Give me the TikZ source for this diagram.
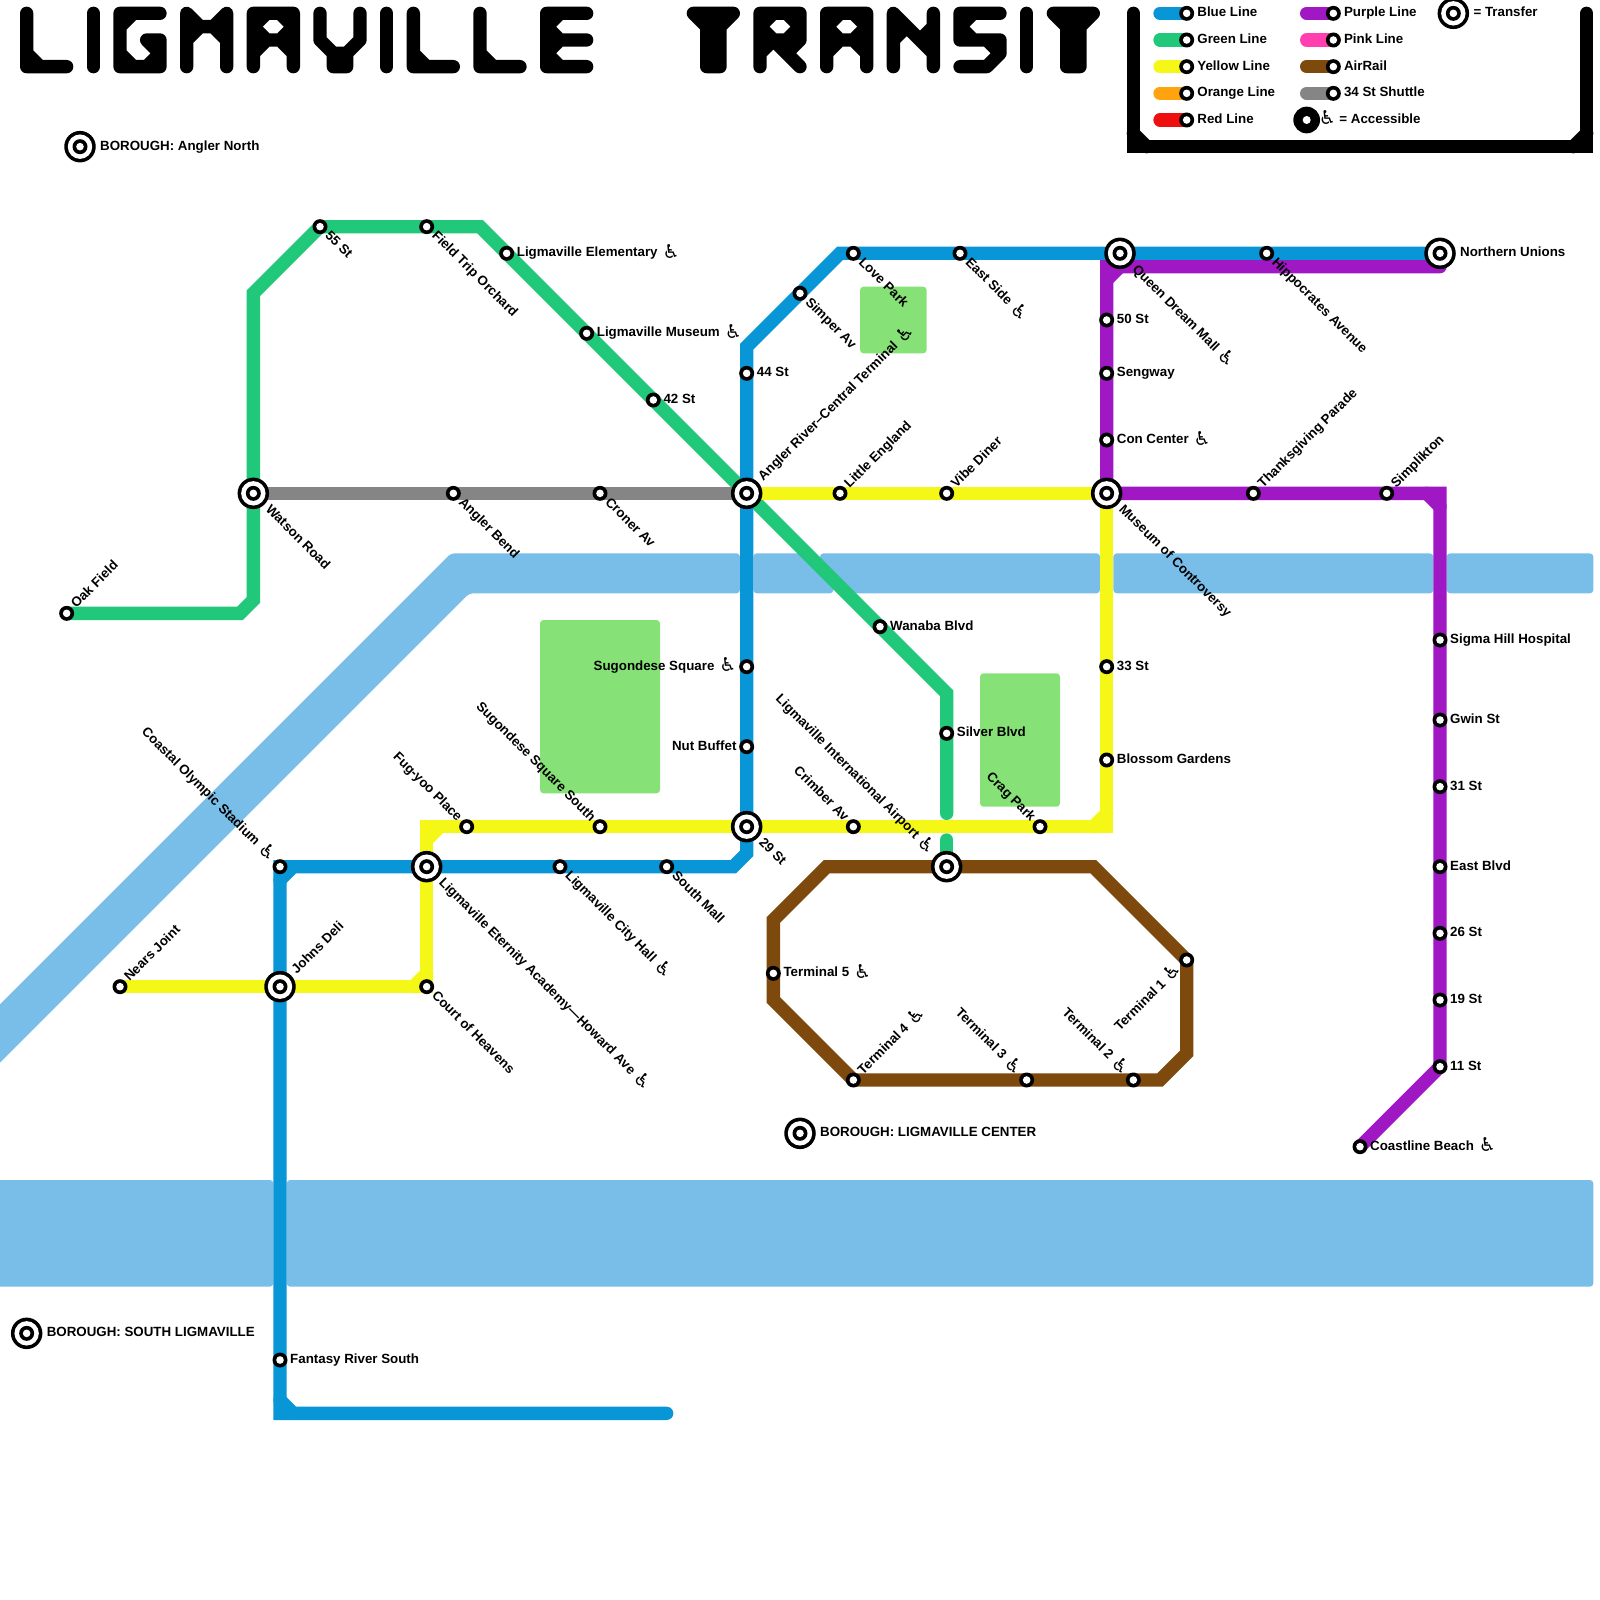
\documentclass[tikz,border=0pt]{standalone}
\usepackage{fontspec}
\setmainfont{Liberation Sans}
\newfontfamily\icf{DejaVu Sans}
\usetikzlibrary{backgrounds}
\definecolor{cBlue}{HTML}{0896D7}
\definecolor{cGreen}{HTML}{21C87A}
\definecolor{cYellow}{HTML}{F5F816}
\definecolor{cOrange}{HTML}{FFA40E}
\definecolor{cRed}{HTML}{F00F0F}
\definecolor{cPurple}{HTML}{A018C4}
\definecolor{cPink}{HTML}{FF40AE}
\definecolor{cBrown}{HTML}{7D490D}
\definecolor{cGray}{HTML}{858585}
\definecolor{cWater}{HTML}{79BDE9}
\definecolor{cPark}{HTML}{86E276}
\newcommand{\wch}{\smash{\raisebox{-1.5bp}{\icf\mdseries\fontsize{19bp}{19bp}\selectfont ♿}}}
\newcommand{\acc}{\hspace{5bp}\wch}
\newcommand{\stn}[2]{\node[stat] (#1) at (#2) {};}
\newcommand{\trn}[2]{\node[tring] (#1o) at (#2) {}; \node[stat] (#1) at (#2) {};}
\tikzset{
  disc/.style 2 args={circle,fill=black,line width=0pt,outer sep=0pt,inner sep=0pt,minimum size=#1,
    path picture={\fill[white] (path picture bounding box.center) circle (#2);}},
  stat/.style={disc={15bp}{3.8bp}},
  tring/.style={disc={31.5bp}{12.2bp}},
  bigdot/.style={disc={26.7bp}{4bp}},
  txt/.style={font=\bfseries\fontsize{13.33bp}{15bp}\selectfont,inner sep=0pt,text height=9.5bp,text depth=2.5bp,text=black},
  lbE/.style={txt,anchor=west,xshift=#1},lbE/.default=10bp,
  lbW/.style={txt,anchor=east,xshift=-#1},lbW/.default=10bp,
  lbSE/.style={txt,rotate=-45,anchor=west,xshift=#1},lbSE/.default=10bp,
  lbNE/.style={txt,rotate=45,anchor=west,xshift=#1},lbNE/.default=10bp,
  lbNW/.style={txt,rotate=-45,anchor=east,xshift=-#1},lbNW/.default=10bp,
  lbSW/.style={txt,rotate=45,anchor=east,xshift=-#1},lbSW/.default=10bp,
  rail/.style={line width=13.33bp,line cap=round,line join=miter,draw=#1},
  ttl/.style={line width=13.33bp,line cap=round,line join=round,draw=black},
  wat/.style={fill=cWater,rounded corners=3.5bp},
  prk/.style={fill=cPark,rounded corners=3.5bp}
}
\begin{document}
\begin{tikzpicture}[x=13.3333bp,y=-13.3333bp]
\useasboundingbox (0,0) rectangle (120,120);

% stations: green
\stn{oak}{5,46}\stn{s55}{24,17}\stn{field}{32,17}\stn{elem}{38,19}\stn{museum}{44,25}\stn{s42}{49,30}
\stn{wanaba}{66,47}\stn{silver}{71,55}
% gray
\stn{bend}{34,37}\stn{croner}{45,37}
% yellow
\stn{nears}{9,74}\stn{court}{32,74}\stn{little}{63,37}\stn{vibe}{71,37}\stn{s33}{83,50}\stn{blossom}{83,57}
\stn{crag}{78,62}\stn{crimber}{64,62}\stn{sqsouth}{45,62}\stn{fug}{35,62}
% blue
\stn{coastal}{21,65}\stn{city}{42,65}\stn{south}{50,65}\stn{fantasy}{21,102}\stn{simper}{60,22}\stn{love}{64,19}
\stn{east}{72,19}\stn{hippo}{95,19}\stn{s44}{56,28}\stn{sugo}{56,50}\stn{nut}{56,56}
% purple
\stn{s50}{83,24}\stn{seng}{83,28}\stn{con}{83,33}\stn{thanks}{94,37}\stn{simpl}{104,37}\stn{sigma}{108,48}
\stn{gwin}{108,54}\stn{s31}{108,59}\stn{eblvd}{108,65}\stn{s26}{108,70}\stn{s19}{108,75}\stn{s11}{108,80}\stn{beach}{102,86}
% airrail
\stn{t5}{58,73}\stn{t4}{64,81}\stn{t3}{77,81}\stn{t2}{85,81}\stn{t1}{89,72}
% transfers
\trn{watson}{19,37}\trn{angler}{56,37}\trn{mus}{83,37}\trn{s29}{56,62}\trn{etern}{32,65}\trn{johns}{21,74}
\trn{queen}{84,19}\trn{north}{108,19}\trn{lia}{71,65}
\trn{bA}{6,11}\trn{bB}{60,85}\trn{bC}{2,100}

% labels
\node[lbE=20bp] (Lb1) at (bA) {BOROUGH: Angler North};
\node[lbE=20bp] (Lb2) at (bB) {BOROUGH: LIGMAVILLE CENTER};
\node[lbE=20bp] (Lb3) at (bC) {BOROUGH: SOUTH LIGMAVILLE};

\node[lbNE] (Loak) at (oak) {Oak Field};
\node[lbSE] (Ls55) at (s55) {55 St};
\node[lbSE] (Lfield) at (field) {Field Trip Orchard};
\node[lbE] (Lelem) at (elem) {Ligmaville Elementary\acc};
\node[lbE] (Lmuseum) at (museum) {Ligmaville Museum\acc};
\node[lbE] (Ls42) at (s42) {42 St};
\node[lbE] (Lwanaba) at (wanaba) {Wanaba Blvd};
\node[lbE] (Lsilver) at (silver) {Silver Blvd};
\node[lbSE] (Lbend) at (bend) {Angler Bend};
\node[lbSE] (Lcroner) at (croner) {Croner Av};
\node[lbNE] (Lnears) at (nears) {Nears Joint};
\node[lbSE] (Lcourt) at (court) {Court of Heavens};
\node[lbNE] (Llittle) at (little) {Little England};
\node[lbNE] (Lvibe) at (vibe) {Vibe Diner};
\node[lbE] (Ls33) at (s33) {33 St};
\node[lbE] (Lblossom) at (blossom) {Blossom Gardens};
\node[lbNW] (Lcrag) at (crag) {Crag Park};
\node[lbNW] (Lcrimber) at (crimber) {Crimber Av};
\node[lbNW] (Lsqsouth) at (sqsouth) {Sugondese Square South};
\node[lbNW] (Lfug) at (fug) {Fug-yoo Place};
\node[lbNW] (Lcoastal) at (coastal) {Coastal Olympic Stadium\acc};
\node[lbSE] (Lcity) at (city) {Ligmaville City Hall\acc};
\node[lbSE] (Lsouth) at (south) {South Mall};
\node[lbE] (Lfantasy) at (fantasy) {Fantasy River South};
\node[lbSE] (Lsimper) at (simper) {Simper Av};
\node[lbSE] (Llove) at (love) {Love Park};
\node[lbSE] (Least) at (east) {East Side\acc};
\node[lbSE] (Lhippo) at (hippo) {Hippocrates Avenue};
\node[lbE] (Ls44) at (s44) {44 St};
\node[lbW] (Lsugo) at (sugo) {Sugondese Square\acc};
\node[lbW] (Lnut) at (nut) {Nut Buffet};
\node[lbE] (Ls50) at (s50) {50 St};
\node[lbE] (Lseng) at (seng) {Sengway};
\node[lbE] (Lcon) at (con) {Con Center\acc};
\node[lbNE] (Lthanks) at (thanks) {Thanksgiving Parade};
\node[lbNE] (Lsimpl) at (simpl) {Simplikton};
\node[lbE] (Lsigma) at (sigma) {Sigma Hill Hospital};
\node[lbE] (Lgwin) at (gwin) {Gwin St};
\node[lbE] (Ls31) at (s31) {31 St};
\node[lbE] (Leblvd) at (eblvd) {East Blvd};
\node[lbE] (Ls26) at (s26) {26 St};
\node[lbE] (Ls19) at (s19) {19 St};
\node[lbE] (Ls11) at (s11) {11 St};
\node[lbE] (Lbeach) at (beach) {Coastline Beach\acc};
\node[lbE] (Lt5) at (t5) {Terminal 5\acc};
\node[lbNE] (Lt4) at (t4) {Terminal 4\acc};
\node[lbNW] (Lt3) at (t3) {Terminal 3\acc};
\node[lbNW] (Lt2) at (t2) {Terminal 2\acc};
\node[lbSW] (Lt1) at (t1) {Terminal 1\acc};
\node[lbSE=20bp] (Lwatson) at (watson) {Watson Road};
\node[lbNE=20bp] (Langler) at (angler) {Angler River–Central Terminal\acc};
\node[lbSE=20bp] (Lmus) at (mus) {Museum of Controversy};
\node[lbSE=20bp] (Ls29) at (s29) {29 St};
\node[lbSE=20bp] (Letern) at (etern) {Ligmaville Eternity Academy—Howard Ave\acc};
\node[lbNE=20bp] (Ljohns) at (johns) {Johns Deli};
\node[lbSE=20bp] (Lqueen) at (queen) {Queen Dream Mall\acc};
\node[lbE=20bp] (Lnorth) at (north) {Northern Unions};
\node[lbNW=20bp] (Llia) at (lia) {Ligmaville International Airport\acc};

% legend
\coordinate (k1) at (87,1);\coordinate (k2) at (87,3);\coordinate (k3) at (87,5);\coordinate (k4) at (87,7);\coordinate (k5) at (87,9);
\coordinate (k6) at (98,1);\coordinate (k7) at (98,3);\coordinate (k8) at (98,5);\coordinate (k9) at (98,7);
\stn{g1}{89,1}\stn{g2}{89,3}\stn{g3}{89,5}\stn{g4}{89,7}\stn{g5}{89,9}
\stn{g6}{100,1}\stn{g7}{100,3}\stn{g8}{100,5}\stn{g9}{100,7}
\trn{gT}{109,1}
\node[bigdot] (gA) at (98,9) {};
\node[lbE=10.5bp] (Lg1) at (g1) {Blue Line};
\node[lbE=10.5bp] (Lg2) at (g2) {Green Line};
\node[lbE=10.5bp] (Lg3) at (g3) {Yellow Line};
\node[lbE=10.5bp] (Lg4) at (g4) {Orange Line};
\node[lbE=10.5bp] (Lg5) at (g5) {Red Line};
\node[lbE=10.5bp] (Lg6) at (g6) {Purple Line};
\node[lbE=10.5bp] (Lg7) at (g7) {Pink Line};
\node[lbE=10.5bp] (Lg8) at (g8) {AirRail};
\node[lbE=10.5bp] (Lg9) at (g9) {34 St Shuttle};
\node[lbE=20bp] (LgT) at (gT) {= Transfer};
\node[lbE=12bp] (LgA) at (gA) {\wch\hspace{3.5bp}= Accessible};

\begin{scope}[on background layer]
  \fill[white] (0,0) rectangle (120,120);
  % water
  \fill[wat] (33.83,41.5) -- (55.5,41.5) -- (55.5,44.5) -- (35.2,44.5) -- (-2,81.7) -- (-2,77.33) -- cycle;
  \fill[wat] (56.5,41.5) -- (60.7,41.5) -- (62.5,43.3) -- (62.5,44.5) -- (56.5,44.5) -- cycle;
  \fill[wat] (61.5,41.5) -- (82.5,41.5) -- (82.5,44.5) -- (64,44.5) -- (61.5,42) -- cycle;
  \fill[wat] (83.5,41.5) rectangle (107.5,44.5);
  \fill[wat] (108.5,41.5) rectangle (119.5,44.5);
  \fill[wat] (-1,88.5) rectangle (20.5,96.5);
  \fill[wat] (21.5,88.5) rectangle (119.5,96.5);
  % parks
  \fill[prk] (40.5,46.5) rectangle (49.5,59.5);
  \fill[prk] (64.5,21.5) rectangle (69.5,26.5);
  \fill[prk] (73.5,50.5) rectangle (79.5,60.5);
  % title
  \draw[ttl] (2,1)--(2,5)--(5,5) (2,4)--(3,5);
  \draw[ttl] (7,1)--(7,5);
  \draw[ttl] (12,1)--(9,1)--(9,5)--(12,5)--(12,3)--(11,3) (9,2)--(10,1) (9,4)--(10,5) (11,5)--(12,4) (11,3)--(12,4);
  \draw[ttl] (14,5)--(14,1)--(15,2)--(16,2)--(17,1)--(17,5) (14,3)--(15,2) (16,2)--(17,3);
  \draw[ttl] (19,5)--(19,1)--(22,1)--(22,5) (19,3)--(22,3) (19,2)--(20,1) (21,1)--(22,2) (19,2)--(20,3) (21,3)--(22,2) (19,4)--(20,3) (21,3)--(22,4);
  \draw[ttl] (24,1)--(24,3)--(25,4)--(26,4)--(27,3)--(27,1) (25,4)--(25,5)--(26,5)--(26,4);
  \draw[ttl] (29,1)--(29,5);
  \draw[ttl] (31,1)--(31,5)--(34,5) (31,4)--(32,5);
  \draw[ttl] (36,1)--(36,5)--(39,5) (36,4)--(37,5);
  \draw[ttl] (44,1)--(41,1)--(41,5)--(44,5) (41,3)--(44,3) (41,2)--(42,1) (41,2)--(42,3) (41,4)--(42,3) (41,4)--(42,5);
  \draw[ttl] (52,1)--(55,1) (53,1)--(53,5)--(54,5)--(54,1) (52,1)--(53,2) (55,1)--(54,2);
  \draw[ttl] (57,5)--(57,1)--(60,1)--(60,3)--(57,3) (57,2)--(58,1) (59,1)--(60,2) (57,2)--(58,3) (59,3)--(60,2) (57,4)--(58,3) (58,3)--(60,5) (60,3)--(59,4);
  \draw[ttl] (62,5)--(62,1)--(65,1)--(65,5) (62,3)--(65,3) (62,2)--(63,1) (64,1)--(65,2) (62,2)--(63,3) (64,3)--(65,2) (62,4)--(63,3) (64,3)--(65,4);
  \draw[ttl] (67,5)--(67,1)--(70,4)--(70,5) (70,1)--(70,4) (69,3)--(70,2) (67,3)--(68,2);
  \draw[ttl] (75,1)--(72,1)--(72,3)--(75,3)--(75,4)--(74,5)--(72,5) (72,2)--(73,1) (72,2)--(73,3) (74,3)--(75,4);
  \draw[ttl] (77,1)--(77,5);
  \draw[ttl] (79,1)--(82,1) (80,1)--(80,5)--(81,5)--(81,1) (79,1)--(80,2) (82,1)--(81,2);
  % legend frame
  \draw[rail=black,line cap=round] (85,1)--(85,11)--(119,11)--(119,1);
  \draw[rail=black] (85,10)--(86,11) (118,11)--(119,10);
  % legend swatches
  \draw[rail=cBlue] (k1)--(g1.center);
  \draw[rail=cGreen] (k2)--(g2.center);
  \draw[rail=cYellow] (k3)--(g3.center);
  \draw[rail=cOrange] (k4)--(g4.center);
  \draw[rail=cRed] (k5)--(g5.center);
  \draw[rail=cPurple] (k6)--(g6.center);
  \draw[rail=cPink] (k7)--(g7.center);
  \draw[rail=cBrown] (k8)--(g8.center);
  \draw[rail=cGray] (k9)--(g9.center);
  % shuttle
  \draw[rail=cGray] (watson.center)--(bend.center)--(croner.center)--(angler.center);
  % green
  \draw[rail=cGreen] (oak.center)--(18,46)--(19,45)--(watson.center)--(19,22)--(s55.center)--(field.center)--(36,17)--(elem.center)--(museum.center)--(s42.center)--(angler.center)--(wanaba.center)--(71,52)--(silver.center)--(71,61);
  \draw[rail=cGreen] (71,63)--(lia.center);
  % yellow
  \draw[rail=cYellow] (nears.center)--(johns.center)--(court.center)--(etern.center)--(32,62)--(fug.center)--(sqsouth.center)--(s29.center)--(crimber.center)--(crag.center)--(83,62)--(blossom.center)--(s33.center)--(mus.center)--(vibe.center)--(little.center)--(angler.center);
  \draw[rail=cYellow] (31,74)--(32,73) (32,63)--(33,62) (82,62)--(83,61);
  % purple
  \draw[rail=cPurple] (108,20)--(83,20)--(s50.center)--(seng.center)--(con.center)--(mus.center)--(thanks.center)--(simpl.center)--(108,37)--(sigma.center)--(gwin.center)--(s31.center)--(eblvd.center)--(s26.center)--(s19.center)--(s11.center)--(beach.center);
  \draw[rail=cPurple] (83,21)--(84,20) (107,37)--(108,38);
  % airrail
  \draw[rail=cBrown] (lia.center)--(82,65)--(t1.center)--(89,79)--(87,81)--(t2.center)--(t3.center)--(t4.center)--(58,75)--(t5.center)--(58,69)--(62,65)--cycle;
  % blue
  \draw[rail=cBlue] (50,106)--(21,106)--(fantasy.center)--(johns.center)--(coastal.center)--(etern.center)--(city.center)--(south.center)--(55,65)--(56,64)--(s29.center)--(nut.center)--(sugo.center)--(angler.center)--(s44.center)--(56,26)--(simper.center)--(63,19)--(love.center)--(east.center)--(queen.center)--(hippo.center)--(north.center);
  \draw[rail=cBlue] (21,66)--(22,65) (21,105)--(22,106);
\end{scope}
\end{tikzpicture}
\end{document}
